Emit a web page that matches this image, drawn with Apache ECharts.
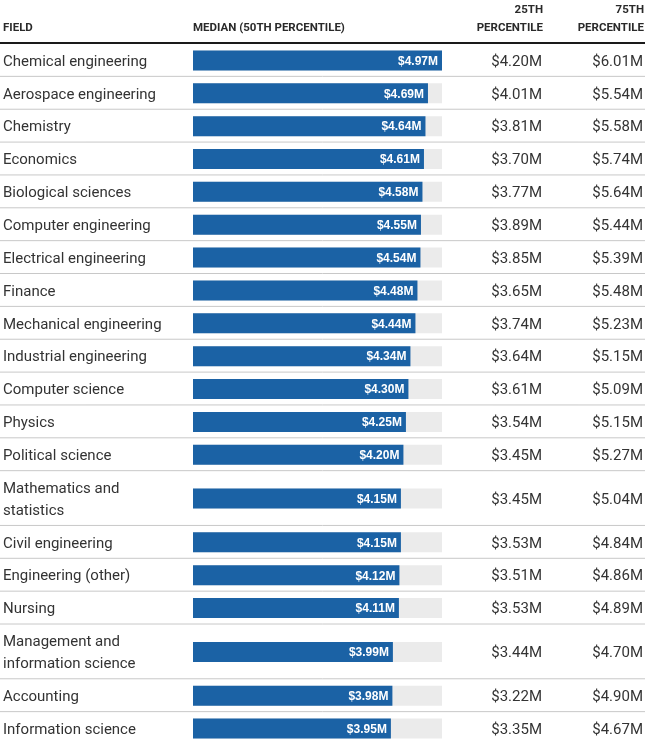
<!DOCTYPE html>
<html>
<head>
<meta charset="utf-8">
<script src="https://cdn.jsdelivr.net/npm/echarts@6/dist/echarts.min.js"></script>
<style>
html,body{margin:0;padding:0;background:#fff;}
#chart{width:649px;height:745px;}
</style>
</head>
<body>
<div id="chart"></div>
<script>
const fields = [
  "Chemical engineering","Aerospace engineering","Chemistry","Economics","Biological sciences",
  "Computer engineering","Electrical engineering","Finance","Mechanical engineering","Industrial engineering",
  "Computer science","Physics","Political science","Mathematics and\nstatistics","Civil engineering",
  "Engineering (other)","Nursing","Management and\ninformation science","Accounting","Information science"
];
const median = [4.97,4.69,4.64,4.61,4.58,4.55,4.54,4.48,4.44,4.34,4.30,4.25,4.20,4.15,4.15,4.12,4.11,3.99,3.98,3.95];
const p25 = [4.20,4.01,3.81,3.70,3.77,3.89,3.85,3.65,3.74,3.64,3.61,3.54,3.45,3.45,3.53,3.51,3.53,3.44,3.22,3.35];
const p75 = [6.01,5.54,5.58,5.74,5.64,5.44,5.39,5.48,5.23,5.15,5.09,5.15,5.27,5.04,4.84,4.86,4.89,4.70,4.90,4.67];
const headers = ["FIELD","MEDIAN (50TH PERCENTILE)","25TH\nPERCENTILE","75TH\nPERCENTILE"];

const maxVal = Math.max(...median);
const rowUnits = fields.map(f => f.includes("\n") ? 5 : 3);
const rowStart = [];
let acc = 0;
rowUnits.forEach(u => { rowStart.push(acc); acc += u; });
const totalUnits = acc;
const UNIT = 11;
const fmt = v => "$" + v.toFixed(2) + "M";

const FONT = "Roboto, 'Noto Sans', sans-serif";
const HFONT = "bold 11.5px " + FONT;
const data = fields.map((f, i) => [median[i], rowStart[i] + rowUnits[i] / 2, p25[i], p75[i], i]);

const chart = echarts.init(document.getElementById('chart'), null, {renderer: 'canvas'});
chart.setOption({
  animation: false,
  backgroundColor: '#fff',
  grid: {left: 193, right: 207, top: 44, height: totalUnits * UNIT},
  xAxis: {type: 'value', min: 0, max: maxVal, show: false},
  yAxis: {type: 'value', min: 0, max: totalUnits, inverse: true, show: false},
  graphic: [
    {type: 'text', x: 3, y: 28, style: {text: headers[0], font: HFONT, fill: '#2a2a2a', textVerticalAlign: 'middle'}},
    {type: 'text', x: 193, y: 28, style: {text: headers[1], font: HFONT, fill: '#2a2a2a', textVerticalAlign: 'middle'}},
    {type: 'text', x: 543, y: 19, style: {text: headers[2], font: HFONT, fill: '#2a2a2a', textAlign: 'right', textVerticalAlign: 'middle', lineHeight: 18}},
    {type: 'text', x: 644, y: 19, style: {text: headers[3], font: HFONT, fill: '#2a2a2a', textAlign: 'right', textVerticalAlign: 'middle', lineHeight: 18}},
    {type: 'line', shape: {x1: 0, y1: 43, x2: 645, y2: 43}, style: {stroke: '#1a1a1a', lineWidth: 2}}
  ],
  series: [{
    type: 'custom',
    encode: {x: 0, y: 1},
    data: data,
    clip: false,
    renderItem: function (params, api) {
      const i = api.value(4);
      const med = api.value(0);
      const yc = api.value(1);
      const p0 = api.coord([0, yc]);
      const pe = api.coord([med, yc]);
      const pm = api.coord([maxVal, yc]);
      const bottom = api.coord([0, rowStart[i] + rowUnits[i]])[1];
      const bh = 20;
      const ty = p0[1] + 1.5;
      const children = [
        {type: 'rect', shape: {x: p0[0], y: p0[1] - bh / 2, width: pm[0] - p0[0], height: bh}, style: {fill: '#ebebeb'}},
        {type: 'rect', shape: {x: p0[0], y: p0[1] - bh / 2, width: pe[0] - p0[0], height: bh}, style: {fill: '#1b62a5'}},
        {type: 'text', x: pe[0] - 4, y: p0[1] + 1, style: {text: fmt(med), textAlign: 'right', textVerticalAlign: 'middle', font: "bold 12px 'Liberation Sans', Arial, sans-serif", fill: '#fff'}},
        {type: 'text', x: 3, y: ty, style: {text: fields[i], textAlign: 'left', textVerticalAlign: 'middle', font: "15px " + FONT, fill: '#333', lineHeight: 22}},
        {type: 'text', x: 542, y: ty, style: {text: fmt(api.value(2)), textAlign: 'right', textVerticalAlign: 'middle', font: "15px " + FONT, fill: '#333'}},
        {type: 'text', x: 643, y: ty, style: {text: fmt(api.value(3)), textAlign: 'right', textVerticalAlign: 'middle', font: "15px " + FONT, fill: '#333'}}
      ];
      if (i < fields.length - 1) {
        children.push({type: 'line', shape: {x1: 0, y1: bottom - 0.5, x2: 645, y2: bottom - 0.5}, style: {stroke: '#c8c8c8', lineWidth: 1}});
      }
      return {type: 'group', children: children};
    }
  }]
});
</script>
</body>
</html>
